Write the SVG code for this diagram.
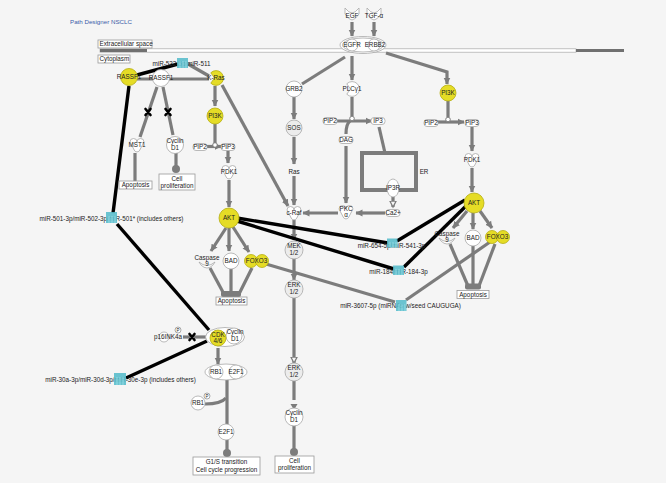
<svg xmlns="http://www.w3.org/2000/svg" width="666" height="483" viewBox="0 0 666 483">
<defs>
<style>
.g{fill:none;stroke:#7c7c7c;stroke-width:3.2}
.k{fill:none;stroke:#000;stroke-width:3.4}
.n{fill:#fff;stroke:#a8a8a8;stroke-width:.8}
.s{fill:#ececec;stroke:#a8a8a8;stroke-width:.8}
.y{fill:#e5dc26;stroke:#b5ad10;stroke-width:.8}
.t{font-family:"Liberation Sans",Arial,sans-serif;font-size:6.3px;fill:#222;text-anchor:middle}
.m{fill:#56bccb;opacity:.88}
.ml{stroke:#9fe0ea;stroke-width:.8}
.x{fill:none;stroke:#000;stroke-width:2.6;stroke-linecap:round}
.box{fill:#fff;stroke:#999;stroke-width:.8}
.j{fill:#fff;stroke:#7c7c7c;stroke-width:1}
.p{fill:#fff;stroke:#888;stroke-width:.7}
</style>
<marker id="a" markerUnits="userSpaceOnUse" markerWidth="8" markerHeight="8" refX="6.5" refY="4" orient="auto"><path d="M0,0.5 L7,4 L0,7.5 z" fill="#7c7c7c"/></marker>
<marker id="o" markerUnits="userSpaceOnUse" markerWidth="8" markerHeight="8" refX="6.5" refY="4" orient="auto"><path d="M0.6,0.9 L6.6,4 L0.6,7.1 z" fill="#f5f5f5" stroke="#7c7c7c" stroke-width="1.2"/></marker>
<marker id="b" markerUnits="userSpaceOnUse" markerWidth="10" markerHeight="10" refX="5" refY="5" orient="auto"><circle cx="5" cy="5" r="4" fill="#7c7c7c"/></marker>
<path id="kin" d="M-7,-3 A3.5,3.5 0 0 1 0,-3 A3.5,3.5 0 0 1 7,-3 L2.8,5 A3,3 0 0 1 -2.8,5 Z"/>
<path id="enz" d="M-5.2,-5.2 A7.4,7.4 0 1 1 -5.2,5.2 L-1.5,0 Z"/>
<path id="lig" d="M-7,-7 Q-3,-2 0,-2 Q3,-2 7,-7 L7,-1 Q3,5 0,5 Q-3,5 -7,-1 Z"/>
<rect id="chem" x="-7" y="-3.5" width="14" height="7" rx="3"/>
<path id="pep" d="M-8,1 Q0,8 8,1 L6,4 Q0,10 -6,4 Z"/>
<path id="xm" d="M-2.5,-3 L2.5,3 M2.5,-3 L-2.5,3"/>
</defs>
<rect width="666" height="483" fill="#f5f5f5"/>
<text class="t" x="70" y="24" style="text-anchor:start;fill:#3b5ba8;font-size:6.2px">Path Designer NSCLC</text>
<g id="membrane">
<rect x="100" y="48.8" width="476" height="3.4" fill="#fff" stroke="#aaa" stroke-width=".7"/>
<rect x="100" y="49" width="47" height="3" fill="#707070"/>
<rect x="576" y="49" width="48" height="3" fill="#707070"/>
</g>
<g id="extracellular"><rect class="box" x="98" y="40" width="54" height="8"/><text class="t" x="99.5" y="46.3" style="text-anchor:start">Extracellular space</text></g>
<g id="cytoplasm"><rect class="box" x="98" y="55" width="32" height="8"/><text class="t" x="99.5" y="61.3" style="text-anchor:start">Cytoplasm</text></g>

<g id="connectors">
<path class="g" d="M352,22 V36" marker-end="url(#a)"/>
<path class="g" d="M374,22 V36" marker-end="url(#a)"/>
<path class="g" d="M345,57 L302,84"/>
<path class="g" d="M352,56 V80" marker-end="url(#a)"/>
<path class="g" d="M386,53 L447,72 V84" marker-end="url(#a)"/>
<path class="g" d="M294,97 V119" marker-end="url(#a)"/>
<path class="g" d="M294,137 V164" marker-end="url(#a)"/>
<path class="g" d="M294,176 V205" marker-end="url(#a)"/>
<path class="g" d="M294,220 V240" marker-end="url(#a)"/>
<path class="g" d="M294,258 V280" marker-end="url(#a)"/>
<path class="g" d="M294,298 V363" marker-end="url(#o)"/>
<path class="g" d="M294,381 V400"/>
<path d="M290.5,404 H297.5 L294,410 Z" fill="#7c7c7c"/>
<path class="g" d="M294,425 V452" marker-end="url(#b)"/>
<path class="g" d="M352,97 V116"/>
<path class="g" d="M336,121 H372" marker-end="url(#a)"/>
<path class="g" d="M350,121 Q346,124 346,134"/>
<path class="g" d="M346,146 V203" marker-end="url(#a)"/>
<path class="g" d="M379,127 L385,153"/>
<path class="g" d="M393,197 V207" marker-end="url(#o)"/>
<path class="g" d="M385,213 H356" marker-end="url(#a)"/>
<path class="g" d="M338,213 H303" marker-end="url(#a)"/>
<path class="g" d="M222,85 L288,206" marker-end="url(#a)"/>
<path class="g" d="M448,101 V117"/>
<path class="g" d="M437,122 H464" marker-end="url(#a)"/>
<path class="g" d="M472,127 V151" marker-end="url(#a)"/>
<path class="g" d="M472,168 V192" marker-end="url(#a)"/>
<path class="g" d="M467,211 L453,228" marker-end="url(#a)"/>
<path class="g" d="M473,213 V229" marker-end="url(#a)"/>
<path class="g" d="M480,211 L492,228" marker-end="url(#a)"/>
<path class="g" d="M450,244 L468,286"/>
<path class="g" d="M473,246 V286"/>
<path class="g" d="M495,244 L479,286"/>
<rect x="465" y="283.5" width="16" height="6" rx="2" fill="#7c7c7c"/>
<path class="g" d="M226,228 L211,251" marker-end="url(#a)"/>
<path class="g" d="M229,228 V251" marker-end="url(#a)"/>
<path class="g" d="M233,227 L249,252" marker-end="url(#a)"/>
<path class="g" d="M210,268 L224,294"/>
<path class="g" d="M231,269 V294"/>
<path class="g" d="M252,268 L239,294"/>
<rect x="221" y="291" width="20" height="6" rx="2" fill="#7c7c7c"/>
<path class="g" d="M215,124 V143"/>
<path class="g" d="M206,146.5 H221" marker-end="url(#a)"/>
<path class="g" d="M228,151 V163" marker-end="url(#a)"/>
<path class="g" d="M229,180 V207" marker-end="url(#a)"/>
<path class="g" d="M215,86 V106" marker-end="url(#a)"/>
<path class="g" d="M157,87 L140,137"/>
<path class="g" d="M163,87 L173,135"/>
<path class="g" d="M135,153 V181"/>
<path class="g" d="M176,153 V169" marker-end="url(#b)"/>
<path class="g" d="M137,79 H209"/>
<path class="g" d="M188,64 L209,76"/>
<path class="g" d="M206,337 H183"/>
<path class="g" d="M218,348 V364" marker-end="url(#a)"/>
<path class="g" d="M227,379 V424"/>
<path class="g" d="M205,404 Q221,404 226,398"/>
<path class="g" d="M227,440 V453" marker-end="url(#b)"/>
<path class="g" d="M266,264 L395,302"/>
<path class="g" d="M406,300 L490,242"/>
<path class="k" d="M178,64 L137,75"/>
<path class="k" d="M129,86 L113,213"/>
<path class="k" d="M117,224 L209,330"/>
<path class="k" d="M126,378 L207,341"/>
<path class="k" d="M237,218 L388,243"/>
<path class="k" d="M237,221 L394,269"/>
<path class="k" d="M397,241 L465,200"/>
<path class="k" d="M404,267 L466,206"/>
<use href="#xm" class="x" x="148" y="112"/>
<use href="#xm" class="x" x="168" y="112"/>
<use href="#xm" class="x" x="192" y="337"/>
</g>

<g id="egf"><use href="#lig" class="n" x="352" y="15"/><text class="t" x="352" y="17.5">EGF</text></g>
<g id="tgfa"><use href="#lig" class="n" x="374" y="15"/><text class="t" x="374" y="17.5">TGF-α</text></g>
<g id="egfr-erbb2"><ellipse class="n" cx="363" cy="45" rx="23" ry="8.5"/><ellipse class="n" cx="363" cy="45" rx="20.5" ry="7"/><circle class="n" cx="352" cy="45" r="6"/><circle class="n" cx="374" cy="45" r="6"/><text class="t" x="352" y="47.3">EGFR</text><text class="t" x="375" y="47.3">ERBB2</text></g>
<g id="grb2"><circle class="n" cx="294" cy="89" r="8"/><text class="t" x="294" y="91.3">GRB2</text></g>
<g id="sos"><circle class="s" cx="294" cy="128" r="8"/><text class="t" x="294" y="130.3">SOS</text></g>
<g id="ras"><text class="t" x="294" y="174">Ras</text></g>
<g id="craf"><use href="#kin" class="n" x="294" y="213"/><text class="t" x="294" y="215.3">c-Raf</text></g>
<g id="mek"><circle class="s" cx="294" cy="250" r="9"/><text class="t" x="294" y="248">MEK</text><text class="t" x="294" y="255">1/2</text></g>
<g id="erk1"><circle class="s" cx="294" cy="289" r="9"/><text class="t" x="294" y="287">ERK</text><text class="t" x="294" y="294">1/2</text></g>
<g id="erk2"><circle class="s" cx="294" cy="372" r="9"/><text class="t" x="294" y="370">ERK</text><text class="t" x="294" y="377">1/2</text></g>
<g id="cyclind1-mid"><circle class="n" cx="294" cy="417" r="9"/><text class="t" x="294" y="415">Cyclin</text><text class="t" x="294" y="422">D1</text></g>
<g id="cellprolif-mid"><rect class="box" x="275" y="456" width="39" height="17"/><text class="t" x="294.5" y="462.5">Cell</text><text class="t" x="294.5" y="470">proliferation</text></g>
<g id="plcg1"><use href="#enz" class="n" x="352" y="89"/><text class="t" x="352" y="91.3">PLCγ1</text></g>
<g id="junc-mid"><circle class="j" cx="352" cy="118.5" r="2.3"/></g>
<g id="pip2-mid"><use href="#chem" class="n" x="330" y="121"/><text class="t" x="330" y="123.3">PIP2</text></g>
<g id="ip3"><use href="#chem" class="n" x="378" y="121"/><text class="t" x="378" y="123.3">IP3</text></g>
<g id="dag"><use href="#chem" class="n" x="346" y="140"/><text class="t" x="346" y="142.3">DAG</text></g>
<g id="pkca"><use href="#kin" class="n" x="346" y="212"/><text class="t" x="346" y="210.5">PKC</text><text class="t" x="346" y="217">α</text></g>
<g id="er"><rect x="362" y="153" width="54" height="37" fill="none" stroke="#7c7c7c" stroke-width="4"/><text class="t" x="424" y="174">ER</text></g>
<g id="ip3r"><ellipse class="n" cx="393" cy="188" rx="6" ry="9"/><text class="t" x="393" y="190.3">IP3R</text></g>
<g id="ca2"><use href="#chem" class="n" x="393" y="213"/><text class="t" x="393" y="215.3">Ca2+</text></g>

<g id="pi3k-r"><circle class="y" cx="448" cy="93" r="8"/><text class="t" x="448" y="95.3">PI3K</text></g>
<g id="junc-r"><circle class="j" cx="448" cy="119.5" r="2.3"/></g>
<g id="pip2-r"><use href="#chem" class="n" x="431" y="123"/><text class="t" x="431" y="125.3">PIP2</text></g>
<g id="pip3-r"><use href="#chem" class="n" x="472" y="123"/><text class="t" x="472" y="125.3">PIP3</text></g>
<g id="pdk1-r"><use href="#kin" class="n" x="472" y="160"/><text class="t" x="472" y="162.3">PDK1</text></g>
<g id="akt-r"><circle class="y" cx="474" cy="203" r="10"/><text class="t" x="474" y="205.3">AKT</text></g>
<g id="casp9-r"><use href="#pep" class="n" x="447" y="237"/><text class="t" x="447" y="235.5">Caspase</text><text class="t" x="447" y="242">9</text></g>
<g id="bad-r"><circle class="n" cx="473" cy="238" r="8"/><text class="t" x="473" y="240.3">BAD</text></g>
<g id="foxo3-r"><circle class="y" cx="492" cy="237" r="6.5"/><circle class="y" cx="503" cy="237" r="6.5"/><text class="t" x="497.5" y="239.3">FOXO3</text></g>
<g id="apoptosis-r"><rect class="box" x="457" y="290.5" width="32" height="8"/><text class="t" x="473" y="296.7">Apoptosis</text></g>

<g id="rassf1-y"><circle class="y" cx="129" cy="77" r="8.5"/><text class="t" x="129" y="79.3">RASSF1</text></g>
<g id="rassf1-w"><circle class="n" cx="161" cy="78" r="8.5"/><text class="t" x="161" y="80.3">RASSF1</text></g>
<g id="kras"><use href="#enz" class="y" x="216" y="78"/><text class="t" x="216" y="80.3">K-Ras</text></g>
<g id="pi3k-l"><circle class="y" cx="215" cy="116" r="8"/><text class="t" x="215" y="118.3">PI3K</text></g>
<g id="junc-l"><circle class="j" cx="215" cy="145" r="2.3"/></g>
<g id="pip2-l"><use href="#chem" class="n" x="200" y="147"/><text class="t" x="200" y="149.3">PIP2</text></g>
<g id="pip3-l"><use href="#chem" class="n" x="228" y="147"/><text class="t" x="228" y="149.3">PIP3</text></g>
<g id="pdk1-l"><use href="#kin" class="n" x="229" y="172"/><text class="t" x="229" y="174.3">PDK1</text></g>
<g id="akt-l"><circle class="y" cx="229" cy="218" r="10"/><text class="t" x="229" y="220.3">AKT</text></g>
<g id="casp9-l"><use href="#pep" class="n" x="207" y="261"/><text class="t" x="207" y="259.5">Caspase</text><text class="t" x="207" y="266">9</text></g>
<g id="bad-l"><circle class="n" cx="231" cy="261" r="8"/><text class="t" x="231" y="263.3">BAD</text></g>
<g id="foxo3-l"><circle class="y" cx="251" cy="261" r="6.5"/><circle class="y" cx="262" cy="261" r="6.5"/><text class="t" x="256.5" y="263.3">FOXO3</text></g>
<g id="apoptosis-l"><rect class="box" x="216" y="297" width="31" height="8"/><text class="t" x="231.5" y="303.2">Apoptosis</text></g>
<g id="mst1"><use href="#kin" class="n" x="137" y="145"/><text class="t" x="137" y="147.3">MST1</text></g>
<g id="cyclind1-l"><circle class="n" cx="175" cy="145" r="8.5"/><text class="t" x="175" y="143">Cyclin</text><text class="t" x="175" y="149.5">D1</text></g>
<g id="apoptosis-mst"><rect class="box" x="119" y="181" width="33" height="8"/><text class="t" x="135.5" y="187.2">Apoptosis</text></g>
<g id="cellprolif-l"><rect class="box" x="159" y="174" width="36" height="16"/><text class="t" x="177" y="180.5">Cell</text><text class="t" x="177" y="187.5">proliferation</text></g>

<g id="cdk46-cyclind1"><ellipse class="n" cx="225" cy="337" rx="19.5" ry="9.5"/><circle class="n" cx="234" cy="336" r="8"/><circle class="y" cx="218" cy="338" r="8"/><text class="t" x="218" y="336.5">CDK</text><text class="t" x="218" y="343">4/6</text><text class="t" x="235" y="334">Cyclin</text><text class="t" x="235" y="340.5">D1</text></g>
<g id="p16"><circle class="n" cx="164" cy="337" r="5"/><text class="t" x="168" y="339.3">p16INK4a</text><circle class="p" cx="178" cy="330" r="3"/><text class="t" x="178" y="331.6" style="font-size:4.5px">P</text></g>
<g id="rb1-e2f1"><ellipse class="n" cx="226" cy="372" rx="21" ry="8"/><circle class="n" cx="216" cy="372" r="7"/><circle class="n" cx="236" cy="372" r="7"/><text class="t" x="216" y="374.3">RB1</text><text class="t" x="236" y="374.3">E2F1</text></g>
<g id="rb1-p"><circle class="n" cx="198" cy="403" r="7"/><text class="t" x="198" y="405.3">RB1</text><circle class="p" cx="207" cy="396" r="3"/><text class="t" x="207" y="397.6" style="font-size:4.5px">P</text></g>
<g id="e2f1"><circle class="n" cx="226" cy="432" r="8"/><text class="t" x="226" y="434.3">E2F1</text></g>
<g id="g1s"><rect class="box" x="193" y="457" width="67" height="18"/><text class="t" x="226.5" y="464">G1/S transition</text><text class="t" x="226.5" y="471.5">Cell cycle progression</text></g>

<g id="mir-532"><text class="t" x="181.5" y="66">miR-532-5p/miR-511</text><rect class="m" x="177" y="58" width="11" height="10"/><path class="ml" d="M180,61 V68 M183,61 V68 M186,61 V68"/></g>
<g id="mir-501"><text class="t" x="111.5" y="221">miR-501-3p/miR-502-3p/miR-501* (includes others)</text><rect class="m" x="106" y="212" width="11" height="11"/><path class="ml" d="M109,216 V223 M112,216 V223 M115,216 V223"/></g>
<g id="mir-654"><text class="t" x="391.5" y="248">miR-654-5p/miR-541-3p</text><rect class="m" x="387" y="238.5" width="10.5" height="9"/><path class="ml" d="M390,242 V247.5 M393,242 V247.5 M396,242 V247.5"/></g>
<g id="mir-184"><text class="t" x="398.5" y="274.3">miR-184/miR-184-3p</text><rect class="m" x="393" y="265.5" width="11" height="9.5"/><path class="ml" d="M396,269 V275 M399,269 V275 M402,269 V275"/></g>
<g id="mir-3607"><text class="t" x="400.5" y="308">miR-3607-5p (miRNAs w/seed CAUGUGA)</text><rect class="m" x="396" y="300" width="10.5" height="11"/><path class="ml" d="M399,304 V311 M402,304 V311 M405,304 V311"/></g>
<g id="mir-30"><text class="t" x="120.5" y="382">miR-30a-3p/miR-30d-3p/miR-30e-3p (includes others)</text><rect class="m" x="114" y="373" width="12" height="12"/><path class="ml" d="M117,377 V385 M120,377 V385 M123,377 V385"/></g>
</svg>
